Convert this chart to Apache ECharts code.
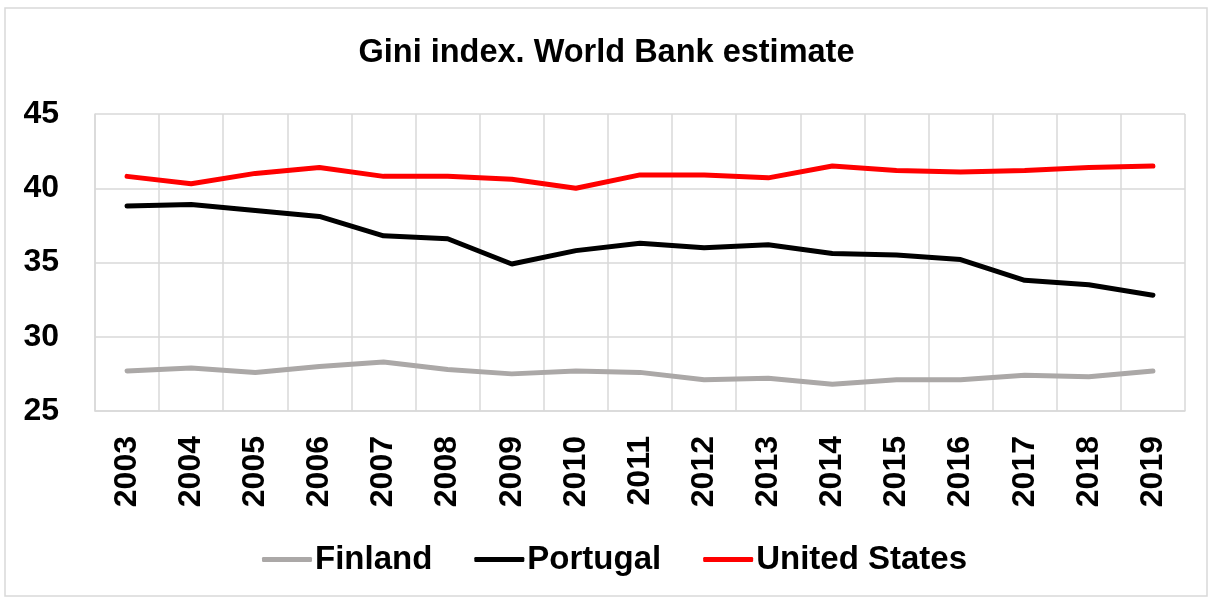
<!DOCTYPE html>
<html>
<head>
<meta charset="utf-8">
<script src="https://cdn.jsdelivr.net/npm/echarts@6/dist/echarts.min.js"></script>
<style>
html, body { margin: 0; padding: 0; background: #fff; }
#main { width: 1213px; height: 602px; }
</style>
</head>
<body>
<div id="main"></div>
<script>
var years = ['2003', '2004', '2005', '2006', '2007', '2008', '2009', '2010', '2011', '2012', '2013', '2014', '2015', '2016', '2017', '2018', '2019']
var finland = [27.7, 27.9, 27.6, 28.0, 28.3, 27.8, 27.5, 27.7, 27.6, 27.1, 27.2, 26.8, 27.1, 27.1, 27.4, 27.3, 27.7]
var portugal = [38.8, 38.9, 38.5, 38.1, 36.8, 36.6, 34.9, 35.8, 36.3, 36.0, 36.2, 35.6, 35.5, 35.2, 33.8, 33.5, 32.8]
var unitedStates = [40.8, 40.3, 41.0, 41.4, 40.8, 40.8, 40.6, 40.0, 40.9, 40.9, 40.7, 41.5, 41.2, 41.1, 41.2, 41.4, 41.5]

var font = 'Liberation Sans, Arial, sans-serif'
var chart = echarts.init(document.getElementById('main'))

function line(name, data, color) {
    return {
        name: name,
        type: 'line',
        data: data,
        symbol: 'none',
        lineStyle: { color: color, width: 5, cap: 'round' },
        itemStyle: { color: color }
    }
}

chart.setOption({
    animation: false,
    title: {
        text: 'Gini index. World Bank estimate',
        left: 'center',
        top: 32,
        textStyle: { fontFamily: font, fontSize: 32.5, fontWeight: 'bold', color: '#000' }
    },
    graphic: [{
        type: 'rect',
        shape: { x: 5, y: 8, width: 1202, height: 588 },
        style: { fill: 'none', stroke: '#d9d9d9', lineWidth: 1.5 },
        silent: true
    }],
    legend: {
        bottom: 21,
        left: 257,
        itemGap: 42,
        itemWidth: 50,
        itemHeight: 5,
        icon: 'roundRect',
        data: ['Finland', 'Portugal', 'United States'],
        textStyle: { fontFamily: font, fontSize: 33, fontWeight: 'bold', color: '#000', padding: [0, 0, 0, -2] }
    },
    grid: { left: 95, right: 28, top: 114, bottom: 191 },
    xAxis: {
        type: 'category',
        data: years,
        boundaryGap: true,
        axisLine: { lineStyle: { color: '#d9d9d9', width: 1.5 } },
        axisTick: { show: false },
        splitLine: { show: true, lineStyle: { color: '#d9d9d9', width: 1.5 } },
        axisLabel: { rotate: 90, margin: 25, fontFamily: font, fontSize: 32, fontWeight: 'bold', color: '#000' }
    },
    yAxis: {
        type: 'value',
        min: 25,
        max: 45,
        interval: 5,
        axisLine: { show: true, lineStyle: { color: '#d9d9d9', width: 1.5 } },
        axisTick: { show: false },
        splitLine: { lineStyle: { color: '#d9d9d9', width: 1.5 } },
        axisLabel: { margin: 36, fontFamily: font, fontSize: 32, fontWeight: 'bold', color: '#000' }
    },
    series: [
        line('Finland', finland, '#aba8a7'),
        line('Portugal', portugal, '#000000'),
        line('United States', unitedStates, '#ff0000')
    ]
})
</script>
</body>
</html>
